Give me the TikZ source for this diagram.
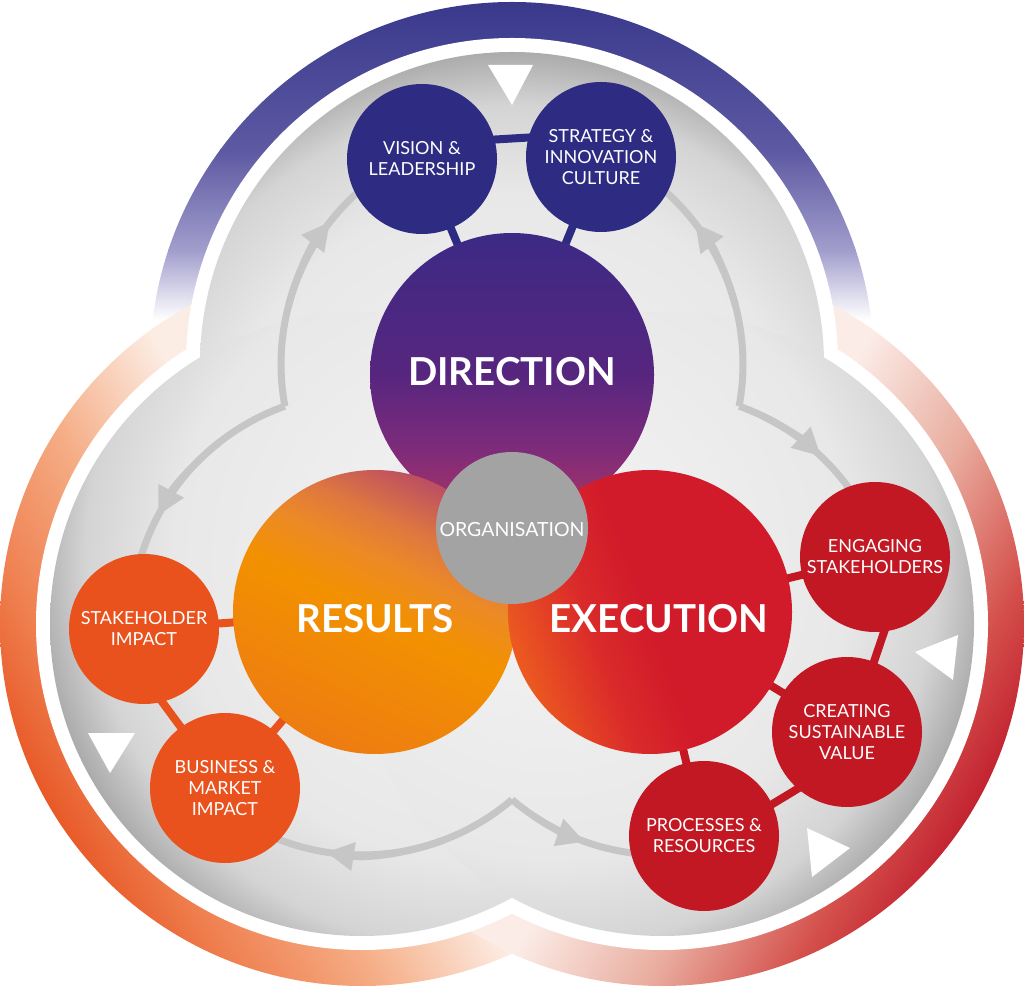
\documentclass[tikz,border=0pt]{standalone}
\usepackage{fontspec}
\setmainfont{Lato}
\usetikzlibrary{arrows.meta}

\definecolor{ringtop}{HTML}{38378B}
\definecolor{ringmid}{HTML}{5D59A2}
\definecolor{ringlow}{HTML}{A19DCC}
\definecolor{leftpale}{HTML}{FCEDE4}
\definecolor{leftpeach}{HTML}{F5AC84}
\definecolor{leftmid}{HTML}{EF7E4E}
\definecolor{leftdeep}{HTML}{E85B29}
\definecolor{rightpale}{HTML}{FBECE7}
\definecolor{rightpeach}{HTML}{E9AC9E}
\definecolor{rightmid}{HTML}{D4504C}
\definecolor{rightdeep}{HTML}{C32431}
\definecolor{greyin}{HTML}{F4F4F4}
\definecolor{greymid}{HTML}{E8E8E8}
\definecolor{greyrim}{HTML}{D4D4D4}
\definecolor{greyout}{HTML}{ABABAB}
\definecolor{flowgrey}{HTML}{C6C6C6}
\definecolor{navy}{HTML}{2E2C82}
\definecolor{redsmall}{HTML}{C21823}
\definecolor{orsmall}{HTML}{E9521D}
\definecolor{orggrey}{HTML}{A3A3A3}
\definecolor{dirtop}{HTML}{3A2A86}
\definecolor{dirmid}{HTML}{57267F}
\definecolor{dirlow}{HTML}{7E2B7A}
\definecolor{dirbase}{HTML}{B3365E}
\definecolor{resdeep}{HTML}{EE7C12}
\definecolor{resmain}{HTML}{F29100}
\definecolor{resA}{HTML}{EC8A26}
\definecolor{resB}{HTML}{DE7740}
\definecolor{resC}{HTML}{BC4E62}
\definecolor{exred}{HTML}{D11A2A}
\definecolor{exA}{HTML}{DA2A2A}
\definecolor{exB}{HTML}{EC5A20}

\pgfdeclareradialshading{greydisc}{\pgfpoint{0bp}{0bp}}{%
  color(0bp)=(greyin); color(17bp)=(greymid); color(22bp)=(greyrim);
  color(25bp)=(greyout); color(50bp)=(greyout)}
\pgfdeclarehorizontalshading{leftring}{100bp}{%
  color(0bp)=(leftpale); color(52.5bp)=(leftpale); color(61.7bp)=(leftpeach);
  color(70bp)=(leftmid); color(75bp)=(leftdeep); color(100bp)=(leftdeep)}
\pgfdeclarehorizontalshading{rightring}{100bp}{%
  color(0bp)=(rightpale); color(52.5bp)=(rightpale); color(61.7bp)=(rightpeach);
  color(70bp)=(rightmid); color(75bp)=(rightdeep); color(100bp)=(rightdeep)}
\pgfdeclarehorizontalshading{resultshade}{100bp}{%
  color(0bp)=(resdeep); color(25bp)=(resdeep); color(50bp)=(resmain);
  color(58.8bp)=(resA); color(65.8bp)=(resB); color(75bp)=(resC); color(100bp)=(resC)}
\pgfdeclarehorizontalshading{execshade}{100bp}{%
  color(0bp)=(exred); color(50bp)=(exred); color(60.6bp)=(exA);
  color(75bp)=(exB); color(100bp)=(exB)}

\pgfdeclarelayer{back}
\pgfdeclarelayer{links}
\pgfsetlayers{back,links,main}

\tikzset{
  smallnode/.style={circle, minimum size=150pt, inner sep=0pt, text=white,
    align=center, font=\fontsize{18}{21}\selectfont},
  bignode/.style={circle, minimum size=284pt, inner sep=0pt},
  bigtext/.style={text=white, inner sep=0pt, font=\fontsize{38.5}{40}\selectfont\bfseries},
  link/.style={line width=8pt, shorten <=-6pt, shorten >=-6pt},
  flow/.style={draw=flowgrey, line width=7pt},
  flowtip/.style={flow, -{Triangle[length=28pt, width=27pt]}},
  marker/.style={fill=white},
}

\begin{document}
\begin{tikzpicture}[x=1pt, y=1pt]
  \useasboundingbox (0,0) rectangle (1024,986);

  \begin{pgfonlayer}{back}
    % outer ring, top lobe
    \begin{scope}
      \clip (512,622) circle (362);
      \fill[white] (140,250) rectangle (884,666);
      \shade[top color=ringtop, bottom color=ringmid] (140,836) rectangle (884,990);
      \shade[top color=ringmid, bottom color=ringlow] (140,736) rectangle (884,836);
      \shade[top color=ringlow, bottom color=white] (140,666) rectangle (884,736);
    \end{scope}
    % outer ring, lower lobes
    \shade[shading=leftring, shading angle=210] (362,362) circle (362);
    \shade[shading=rightring, shading angle=-30] (662,362) circle (362);

    \fill[white] (512,622) circle (326) (362,362) circle (326) (662,362) circle (326);
    \foreach \cx/\cy/\sx/\sy in {512/622/512/492, 362/362/474.5/427.2, 662/362/549.5/427.2} {
      \begin{scope}
        \clip (\cx,\cy) circle (312);
        \shade[shading=greydisc] (\sx,\sy) circle (442);
      \end{scope}
    }

    % white markers on the rim
    \fill[marker] (488,921) -- (533,921) -- (512,881) -- cycle;
    \fill[marker] (915,334) -- (958,351) -- (953,306) -- cycle;
    \fill[marker] (807,158) -- (850,138) -- (812,109) -- cycle;
    \fill[marker] (88,253) -- (135,253) -- (110,213) -- cycle;

    % flow arcs out of the three cusps
    \coordinate (cuspleft) at (284.9,579.8);
    \coordinate (cuspright) at (739.1,579.8);
    \coordinate (cuspbottom) at (512,186.4);
    \draw[flow] (cuspleft) arc[start angle=190.5, end angle=125, radius=231];
    \draw[flow] (cuspleft) arc[start angle=109.5, end angle=175, radius=231];
    \draw[flow] (cuspright) arc[start angle=-10.5, end angle=55, radius=231];
    \draw[flow] (cuspright) arc[start angle=70.5, end angle=5, radius=231];
    \draw[flow] (cuspbottom) arc[start angle=310.5, end angle=240, radius=231];
    \draw[flow] (cuspbottom) arc[start angle=229.5, end angle=290, radius=231];
    \draw[flowtip] (512,622) ++(165:231) arc[start angle=165, end angle=142, radius=231];
    \draw[flowtip] (512,622) ++(15:231) arc[start angle=15, end angle=37.6, radius=231];
    \draw[flowtip] (662,362) ++(64:231) arc[start angle=64, end angle=46.5, radius=231];
    \draw[flowtip] (362,362) ++(128:231) arc[start angle=128, end angle=152, radius=231];
    \draw[flowtip] (362,362) ++(290:231) arc[start angle=290, end angle=261, radius=231];
    \draw[flowtip] (662,362) ++(236:231) arc[start angle=236, end angle=250.5, radius=231];
  \end{pgfonlayer}

  \node[smallnode, fill=navy] (vision) at (422,827) {VISION \&\\LEADERSHIP};
  \node[smallnode, fill=navy] (strategy) at (601,829) {STRATEGY \&\\INNOVATION\\CULTURE};
  \node[smallnode, fill=redsmall] (engaging) at (875,429) {ENGAGING\\STAKEHOLDERS};
  \node[smallnode, fill=redsmall] (creating) at (847,254) {CREATING\\SUSTAINABLE\\VALUE};
  \node[smallnode, fill=redsmall] (processes) at (704,150) {PROCESSES \&\\RESOURCES};
  \node[smallnode, fill=orsmall] (stakeholder) at (144,357) {STAKEHOLDER\\IMPACT};
  \node[smallnode, fill=orsmall] (business) at (225,198) {BUSINESS \&\\MARKET\\IMPACT};

  \node[bignode, path picture={
      \begin{scope}[shift={(path picture bounding box.center)}]
        \shade[top color=dirtop, bottom color=dirmid] (-150,0) rectangle (150,150);
        \shade[top color=dirmid, bottom color=dirlow] (-150,-75) rectangle (150,0);
        \shade[top color=dirlow, bottom color=dirbase] (-150,-150) rectangle (150,-75);
      \end{scope}}] (direction) at (512,611) {};
  \node[bignode, path picture={
      \shade[shading=resultshade, shading angle=65]
        (path picture bounding box.center) circle (142);}] (results) at (375,374) {};
  \node[bignode, path picture={
      \shade[shading=execshade, shading angle=200]
        (path picture bounding box.center) circle (142);}] (execution) at (650,374) {};
  \node[circle, minimum size=152pt, inner sep=0pt, fill=orggrey] (organisation) at (512,458) {};
  \node[text=white, font=\fontsize{19.5}{22}\selectfont, inner sep=0pt]
    (organisationtxt) at ([yshift=-2pt]organisation.center) {ORGANISATION};

  \node[bigtext] (directiontxt) at ([yshift=3.5pt]direction.center) {DIRECTION};
  \node[bigtext] (resultstxt) at ([yshift=-6.5pt]results.center) {RESULTS};
  \node[bigtext] (executiontxt) at ([xshift=9pt,yshift=-6.5pt]execution.center) {EXECUTION};

  \begin{pgfonlayer}{links}
    \draw[link, navy] (vision.15) -- (strategy.165);
    \draw[link, navy] (vision) -- (direction);
    \draw[link, navy] (strategy) -- (direction);
    \draw[link, redsmall] (engaging) -- (execution);
    \draw[link, redsmall] (engaging.-83) -- (creating.69);
    \draw[link, redsmall] (creating) -- (execution);
    \draw[link, redsmall] (creating.229) -- (processes.25);
    \draw[link, redsmall] (processes) -- (execution);
    \draw[link, orsmall] (stakeholder) -- (results);
    \draw[link, orsmall] (stakeholder.-76) -- (business.126);
    \draw[link, orsmall] (business) -- (results);
  \end{pgfonlayer}
\end{tikzpicture}
\end{document}
